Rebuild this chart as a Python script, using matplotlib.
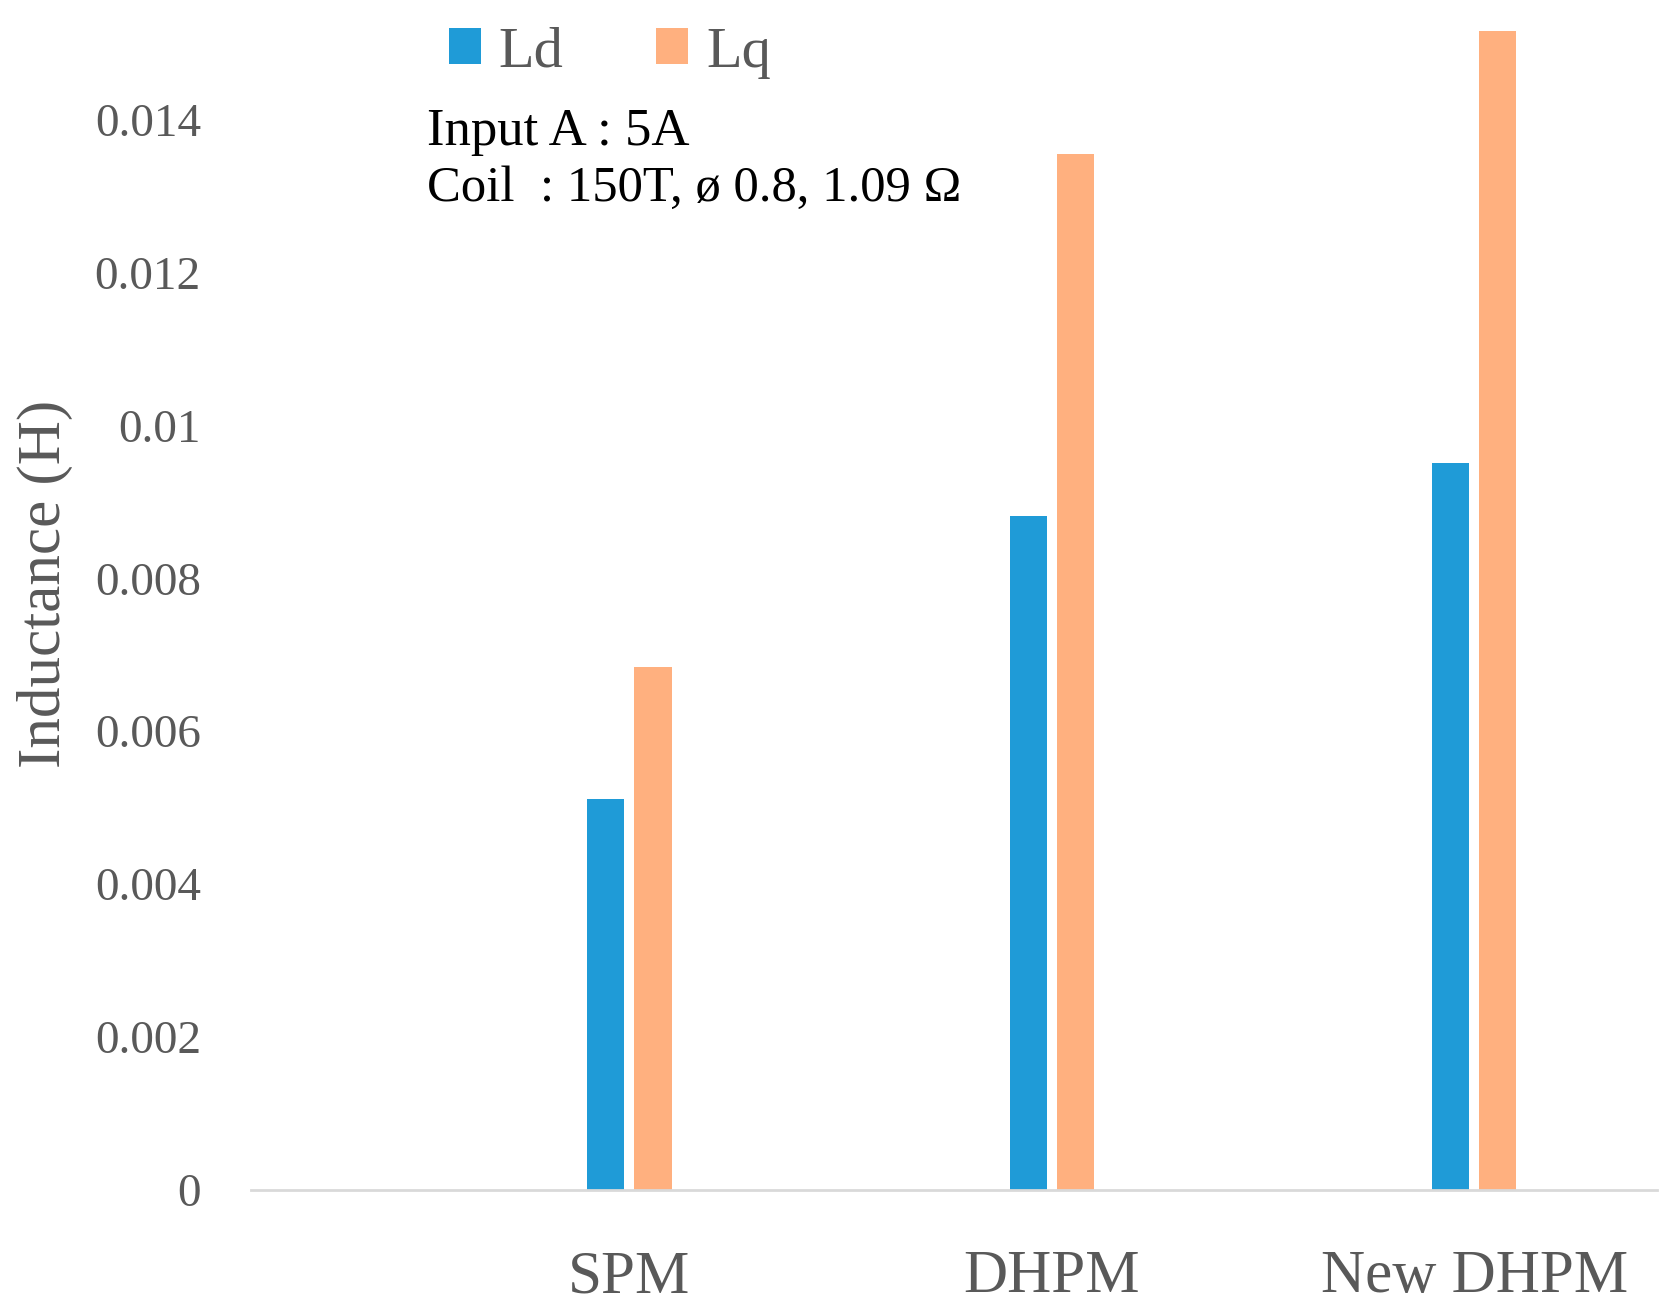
import matplotlib
matplotlib.use("Agg")
import matplotlib.pyplot as plt
import numpy as np

categories = ["SPM", "DHPM", "New DHPM"]
ld_values = [0.00511, 0.00881, 0.00951]
lq_values = [0.00684, 0.01355, 0.01516]
y_ticks = [0, 0.002, 0.004, 0.006, 0.008, 0.01, 0.012, 0.014]
y_tick_labels = ["0", "0.002", "0.004", "0.006", "0.008", "0.01", "0.012", "0.014"]

plt.rcParams['font.family'] = ['Liberation Serif', 'DejaVu Serif']

fig = plt.figure(figsize=(16.8, 13.15), dpi=100)
ax = fig.add_axes([0.1494, 0.0950, 0.8369, 0.9014])

x = np.arange(len(categories))
bw = 0.088
off = 0.056
ax.bar(x - off, ld_values, bw, color="#1F9BD7", label="Ld")
ax.bar(x + off, lq_values, bw, color="#FFB07F", label="Lq")

ax.set_xlim(-0.896, 2.433)
ax.set_ylim(0, 0.0155)
ax.set_yticks(y_ticks)
ax.set_yticklabels(y_tick_labels)
ax.set_xticks(x)
ax.set_xticklabels(categories)
ax.tick_params(axis='y', length=0, pad=36, labelsize=34, labelcolor="#595959")
ax.tick_params(axis='x', length=0, pad=43, labelsize=44, labelcolor="#595959")
for s in ["top", "right", "left"]:
    ax.spines[s].set_visible(False)
ax.spines["bottom"].set_color("#D9D9D9")
ax.spines["bottom"].set_linewidth(2)

fig.text(0.027, 0.556, "Inductance (H)", rotation=90, va="center", ha="center",
         fontsize=44, color="#595959")

leg = fig.legend(loc="center left", bbox_to_anchor=(0.267, 0.960), ncol=2,
                 frameon=False, fontsize=42, handlelength=0.55, handleheight=0.55,
                 handletextpad=0.3, columnspacing=1.6, borderpad=0, borderaxespad=0)
for t in leg.get_texts():
    t.set_color("#595959")

fig.text(0.254, 0.890, "Input A : 5A", fontsize=38, color="black", va="baseline", ha="left")
fig.text(0.254, 0.847, "Coil  : 150T, \u00f8 0.8, 1.09 \u03a9", fontsize=36.5, color="black",
         va="baseline", ha="left")

fig.savefig("out.png", dpi=100)
